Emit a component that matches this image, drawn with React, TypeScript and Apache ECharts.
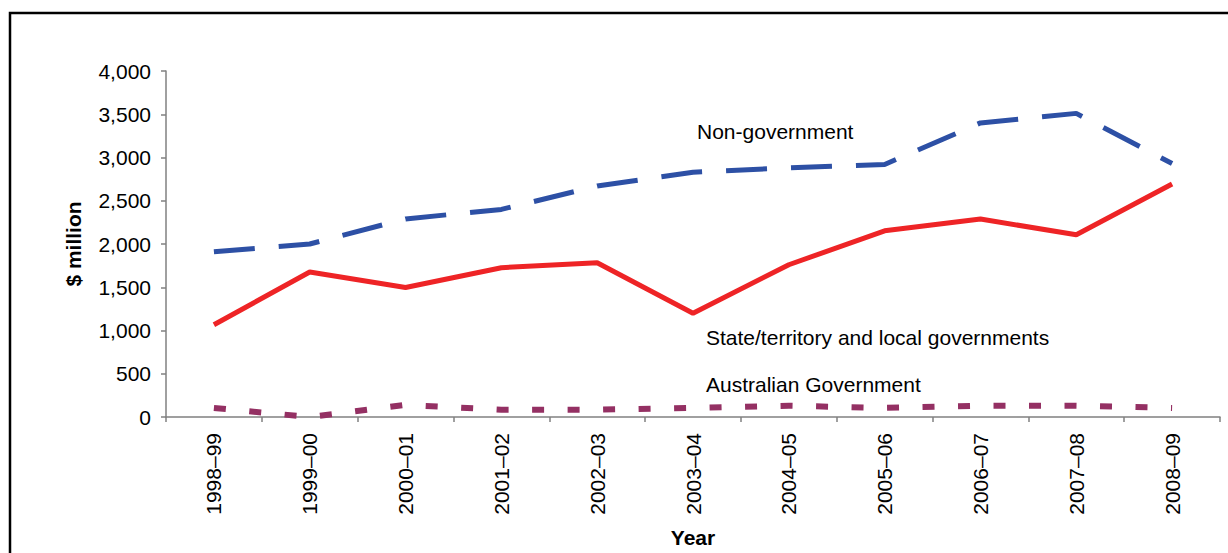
import React, { useEffect, useRef } from "react";
import * as echarts from "echarts";

const categories = [
  "1998–99", "1999–00", "2000–01", "2001–02", "2002–03", "2003–04",
  "2004–05", "2005–06", "2006–07", "2007–08", "2008–09",
];
const nonGovernment = [1910, 2000, 2290, 2400, 2670, 2830, 2880, 2920, 3400, 3510, 2930];
const stateLocal = [1066, 1676, 1497, 1726, 1783, 1200, 1760, 2152, 2289, 2107, 2693];
const australianGov = [105, 0, 140, 85, 85, 105, 130, 105, 130, 130, 105];
const yTicks = { min: 0, max: 4000, interval: 500 };

const FONT = '"Liberation Sans", Arial, sans-serif';

export default function App() {
  const ref = useRef<HTMLDivElement>(null);
  useEffect(() => {
    if (!ref.current) return;
    const chart = echarts.init(ref.current, null, { renderer: "svg" });
    chart.setOption({
      animation: false,
      backgroundColor: "#fff",
      grid: { left: 166, right: 8, top: 71, bottom: 132, containLabel: false },
      xAxis: {
        type: "category",
        data: categories,
        boundaryGap: true,
        name: "Year",
        nameLocation: "middle",
        nameGap: 110,
        nameTextStyle: { fontFamily: FONT, fontSize: 21, fontWeight: "bold", color: "#000" },
        axisLine: { lineStyle: { color: "#808080", width: 1.5 } },
        axisTick: { show: true, length: 5, alignWithLabel: false, lineStyle: { color: "#808080", width: 1.5 } },
        axisLabel: { interval: 0, rotate: 90, margin: 16, fontFamily: FONT, fontSize: 21, color: "#000" },
        splitLine: { show: false },
      },
      yAxis: {
        type: "value",
        min: yTicks.min,
        max: yTicks.max,
        interval: yTicks.interval,
        name: "$ million",
        nameLocation: "middle",
        nameGap: 82,
        nameTextStyle: { fontFamily: FONT, fontSize: 21, fontWeight: "bold", color: "#000" },
        axisLine: { show: true, lineStyle: { color: "#808080", width: 1.5 } },
        axisTick: { show: true, length: 5, lineStyle: { color: "#808080", width: 1.5 } },
        axisLabel: {
          margin: 15,
          fontFamily: FONT,
          fontSize: 21,
          color: "#000",
          formatter: (v: number) => v.toLocaleString("en-US"),
        },
        splitLine: { show: false },
      },
      series: [
        {
          name: "Non-government",
          type: "line",
          data: nonGovernment,
          showSymbol: false,
          symbol: "none",
          lineStyle: { color: "#2D50A5", width: 5, type: [41, 24], cap: "butt" },
        },
        {
          name: "State/territory and local governments",
          type: "line",
          data: stateLocal,
          showSymbol: false,
          symbol: "none",
          lineStyle: { color: "#EE2426", width: 5, type: "solid" },
        },
        {
          name: "Australian Government",
          type: "line",
          data: australianGov,
          showSymbol: false,
          symbol: "none",
          lineStyle: { color: "#943063", width: 6, type: [12, 23.5], cap: "butt" },
        },
      ],
      graphic: [
        {
          type: "rect",
          shape: { x: 10, y: 13, width: 1400, height: 800 },
          style: { fill: "none", stroke: "#000", lineWidth: 2.5 },
          silent: true,
        },
        {
          type: "text",
          x: 697,
          y: 131,
          style: { text: "Non-government", font: `21px ${FONT}`, fill: "#000", verticalAlign: "middle" },
        },
        {
          type: "text",
          x: 706,
          y: 337,
          style: { text: "State/territory and local governments", font: `21px ${FONT}`, fill: "#000", verticalAlign: "middle" },
        },
        {
          type: "text",
          x: 706,
          y: 384,
          style: { text: "Australian Government", font: `21px ${FONT}`, fill: "#000", verticalAlign: "middle" },
        },
      ],
    });
    return () => chart.dispose();
  }, []);
  return (
    <div
      ref={ref}
      style={{ position: "fixed", left: 0, top: 0, width: 1228, height: 553 }}
    />
  );
}
